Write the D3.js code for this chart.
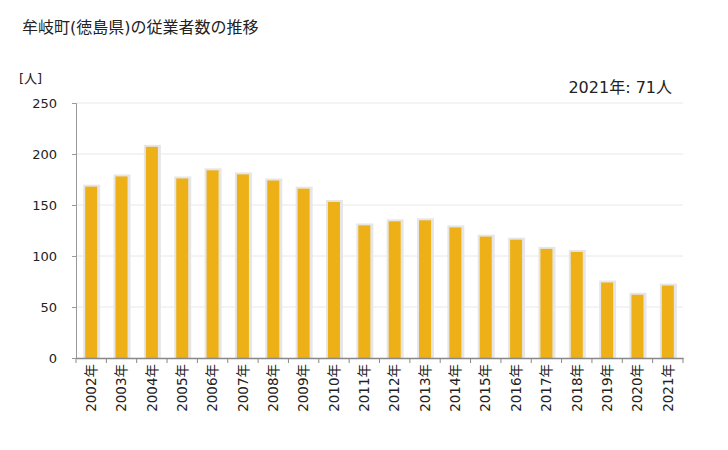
<!DOCTYPE html>
<html><head><meta charset="utf-8">
<script src="https://cdn.jsdelivr.net/npm/d3@7"></script>
<style>body{margin:0;background:#fff;}</style>
</head><body><svg id="c" width="728" height="450"></svg>
<script>
const years = ["2002年","2003年","2004年","2005年","2006年","2007年","2008年","2009年","2010年","2011年","2012年","2013年","2014年","2015年","2016年","2017年","2018年","2019年","2020年","2021年"];
const values = [168,178,207,176,184,180,174,166,153,130,134,135,128,119,116,107,104,74,62,71];
const yTicks = [0,50,100,150,200,250];
const title = "牟岐町(徳島県)の従業者数の推移";
const unitLabel = "[人]";
const note = "2021年: 71人";

const svg = d3.select("#c");
const m = {l:76, r:683, t:103, b:358};
const x = d3.scaleBand().domain(years).range([m.l, m.r]);
const y = d3.scaleLinear().domain([0,250]).range([m.b, m.t]);
const font = "'DejaVu Sans','Noto Sans CJK JP',sans-serif";

svg.append("text").attr("x",22).attr("y",33).attr("font-size",16).attr("font-family",font).attr("fill","#222").text(title);
svg.append("text").attr("x",19).attr("y",83).attr("font-size",13).attr("font-family",font).attr("fill","#222").text(unitLabel);
svg.append("text").attr("x",672).attr("y",93).attr("text-anchor","end").attr("font-size",16).attr("font-family",font).attr("fill","#222").text(note);

// grid
svg.append("g").selectAll("line").data(yTicks.slice(1)).join("line")
  .attr("x1",m.l).attr("x2",m.r).attr("y1",d=>y(d)).attr("y2",d=>y(d))
  .attr("stroke","#e8e8e8").attr("stroke-width",1);

// y axis
const ya = svg.append("g").attr("transform",`translate(${m.l},0)`)
  .call(d3.axisLeft(y).tickValues(yTicks).tickSize(4).tickPadding(15));
ya.select(".domain").attr("stroke","#999");
ya.selectAll(".tick line").attr("stroke","#999");
ya.selectAll("text").attr("font-size",13).attr("font-family",font).attr("fill","#222");

// bars
const bw = 12;
const g = svg.append("g");
g.selectAll("rect.s").data(values).join("rect").attr("class","s")
  .attr("x",(d,i)=>x(years[i])+x.bandwidth()/2-bw/2-2)
  .attr("y",d=>y(d)-2)
  .attr("width",bw+5).attr("height",d=>m.b-y(d)+2)
  .attr("fill","#e6e6e6");
g.selectAll("rect.b").data(values).join("rect").attr("class","b")
  .attr("x",(d,i)=>x(years[i])+x.bandwidth()/2-bw/2)
  .attr("y",d=>y(d))
  .attr("width",bw).attr("height",d=>m.b-y(d))
  .attr("fill","#EDB016");

// x axis
const xa = svg.append("g").attr("transform",`translate(0,${m.b})`)
  .call(d3.axisBottom(x).tickSize(0).tickSizeOuter(0));
xa.select(".domain").attr("stroke","#888").attr("stroke-width",1.5);
xa.selectAll(".tick text").attr("font-size",13.5).attr("font-family",font).attr("fill","#222")
  .attr("transform","rotate(-90)").attr("text-anchor","end").attr("dx","-6px").attr("dy","0.35em").attr("x",0).attr("y",0);
svg.append("g").selectAll("line").data(d3.range(years.length+1)).join("line")
  .attr("x1",i=>m.l+i*x.step()).attr("x2",i=>m.l+i*x.step())
  .attr("y1",m.b).attr("y2",m.b+5).attr("stroke","#888");
</script></body></html>
